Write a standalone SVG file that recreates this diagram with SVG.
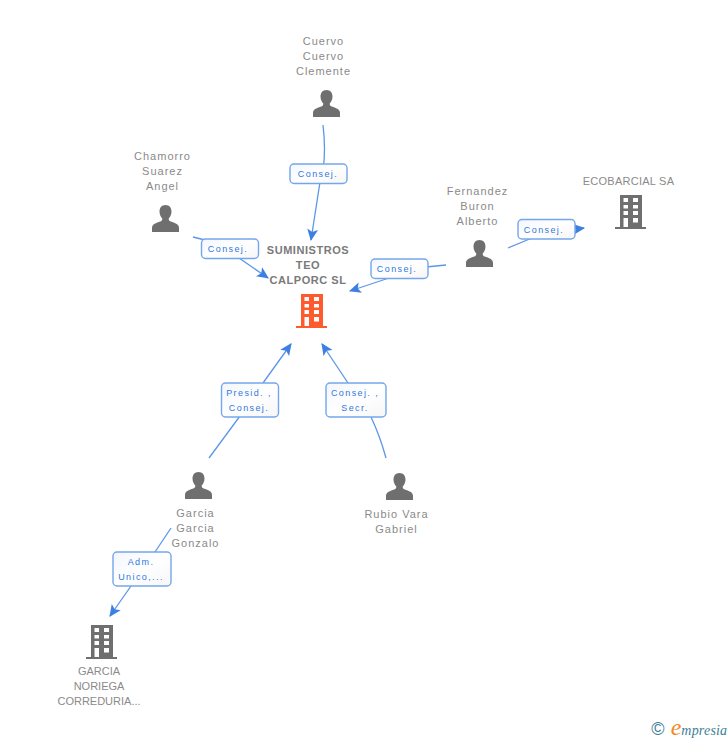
<svg xmlns="http://www.w3.org/2000/svg" width="728" height="740" viewBox="0 0 728 740">
<style>
text{font-family:"Liberation Sans",Arial,sans-serif;text-anchor:middle}
.n{font-size:11px;letter-spacing:1px;fill:#8a8a8a}
.c{font-size:11px;font-weight:bold;letter-spacing:.55px;fill:#7a7a7a}
.l{font-size:9px;letter-spacing:1.4px;fill:#3178dc}
.b{fill:url(#g);stroke:#76a6ea;stroke-width:1.4}
.e{fill:none;stroke:#5b96e8;stroke-width:1.3}
</style>
<defs>
<linearGradient id="g" x1="0" y1="0" x2="1" y2="1"><stop offset="0" stop-color="#f2f6fc"/><stop offset=".5" stop-color="#fff"/><stop offset="1" stop-color="#f6f6f6"/></linearGradient>
<marker id="a" markerUnits="userSpaceOnUse" markerWidth="12" markerHeight="12" refX="10" refY="5" orient="auto" viewBox="0 0 11 10"><path d="M0 0L11 5L0 10L2.500 5Z" fill="#3d80e2"/></marker>
<g id="p"><path d="M13.500 0c3.800 0 6 2.800 6 6.500c0 3-1.300 5.500-2.800 7c0 1.700.5 2.500 2 3.100c4 1.500 8.300 2.400 8.300 6.400v4H0v-4c0-4 4.300-4.900 8.300-6.400c1.500-.6 2-1.400 2-3.100c-1.500-1.500-2.800-4-2.800-7C7.500 2.800 9.700 0 13.500 0Z"/></g>
<g id="f"><path fill-rule="evenodd" d="M5 0H27V32H31V34H0V32H5ZM8.500 3V7H13V3ZM18 3V7H23V3ZM8.500 10V13.500H13V10ZM18 10V13.500H23V10ZM8.500 16V20H13V16ZM18 16V20H23V16ZM8.500 23V32H13V23ZM18 23V27.500H23V23Z"/></g>
</defs>

<g id="connectors">
<path class="e" d="M323 125Q326 150 323 170"/>
<path class="e" d="M320 182L311 240" marker-end="url(#a)"/>
<path class="e" d="M193 237L205 240"/>
<path class="e" d="M239 258L268 278" marker-end="url(#a)"/>
<path class="e" d="M446 265L426 267"/>
<path class="e" d="M389 278L350 291" marker-end="url(#a)"/>
<path class="e" d="M508 248L532 238"/>
<path class="e" d="M575 229L584 228" marker-end="url(#a)"/>
<path class="e" d="M209 458L240 416"/>
<path class="e" d="M263 383L291 344" marker-end="url(#a)"/>
<path class="e" d="M386 458Q380 436 371 417"/>
<path class="e" d="M348 383L322 344" marker-end="url(#a)"/>
<path class="e" d="M171 528L155 552"/>
<path class="e" d="M131 586L110 616" marker-end="url(#a)"/>
</g>

<g id="n-suministros">
<text class="c" x="308" y="253.500">SUMINISTROS</text><text class="c" x="308" y="268.500">TEO</text><text class="c" x="308" y="283.500">CALPORC SL</text>
<use href="#f" x="296" y="294" fill="#fd5a2e"/>
</g>
<g id="n-cuervo">
<text class="n" x="323.500" y="45">Cuervo</text><text class="n" x="323.500" y="60">Cuervo</text><text class="n" x="323.500" y="75">Clemente</text>
<use href="#p" x="313" y="90" fill="#6f6f6f"/>
</g>
<g id="n-chamorro">
<text class="n" x="162.500" y="160">Chamorro</text><text class="n" x="162.500" y="175">Suarez</text><text class="n" x="162.500" y="190">Angel</text>
<use href="#p" x="152" y="205" fill="#6f6f6f"/>
</g>
<g id="n-fernandez">
<text class="n" x="477.500" y="195">Fernandez</text><text class="n" x="477.500" y="210">Buron</text><text class="n" x="477.500" y="225">Alberto</text>
<use href="#p" x="466" y="240" fill="#6f6f6f"/>
</g>
<g id="n-ecobarcial">
<text class="n" x="628.500" y="185" style="letter-spacing:.25px">ECOBARCIAL SA</text>
<use href="#f" x="615" y="195" fill="#6f6f6f"/>
</g>
<g id="n-garcia">
<use href="#p" x="185" y="472" fill="#6f6f6f"/>
<text class="n" x="195.500" y="517">Garcia</text><text class="n" x="195.500" y="532">Garcia</text><text class="n" x="195.500" y="547">Gonzalo</text>
</g>
<g id="n-rubio">
<use href="#p" x="386" y="473" fill="#6f6f6f"/>
<text class="n" x="396.500" y="518">Rubio Vara</text><text class="n" x="396.500" y="533">Gabriel</text>
</g>
<g id="n-noriega">
<use href="#f" x="86" y="625" fill="#6f6f6f"/>
<text class="n" x="99" y="675" style="letter-spacing:0">GARCIA</text><text class="n" x="99" y="690" style="letter-spacing:0">NORIEGA</text><text class="n" x="99" y="705" style="letter-spacing:0">CORREDURIA...</text>
</g>

<g id="labels">
<g><rect class="b" x="290" y="164" width="57" height="19.500" rx="4"/><text class="l" x="318" y="177">Consej.</text></g>
<g><rect class="b" x="201.500" y="239" width="57" height="19.500" rx="4"/><text class="l" x="228" y="252">Consej.</text></g>
<g><rect class="b" x="371" y="259" width="57" height="19.500" rx="4"/><text class="l" x="397" y="272">Consej.</text></g>
<g><rect class="b" x="518" y="219.500" width="57" height="19.500" rx="4"/><text class="l" x="544" y="233">Consej.</text></g>
<g><rect class="b" x="221.500" y="383" width="57" height="34" rx="4"/><text class="l" x="249" y="396">Presid. ,</text><text class="l" x="249" y="411">Consej.</text></g>
<g><rect class="b" x="326" y="383" width="60" height="34" rx="4"/><text class="l" x="355" y="396">Consej. ,</text><text class="l" x="355" y="411">Secr.</text></g>
<g><rect class="b" x="113" y="552" width="58" height="34" rx="4"/><text class="l" x="141" y="565">Adm.</text><text class="l" x="141" y="580">Unico,...</text></g>
</g>

<g id="logo">
<text x="658" y="735" font-size="18" fill="#3d7f96">©</text>
<text x="699" y="735" font-style="italic" fill="#3d7f96" style="font-family:'Liberation Serif',serif"><tspan font-size="24" fill="#f08a1d">e</tspan><tspan font-size="14" letter-spacing=".2">mpresia</tspan></text>
</g>
</svg>
